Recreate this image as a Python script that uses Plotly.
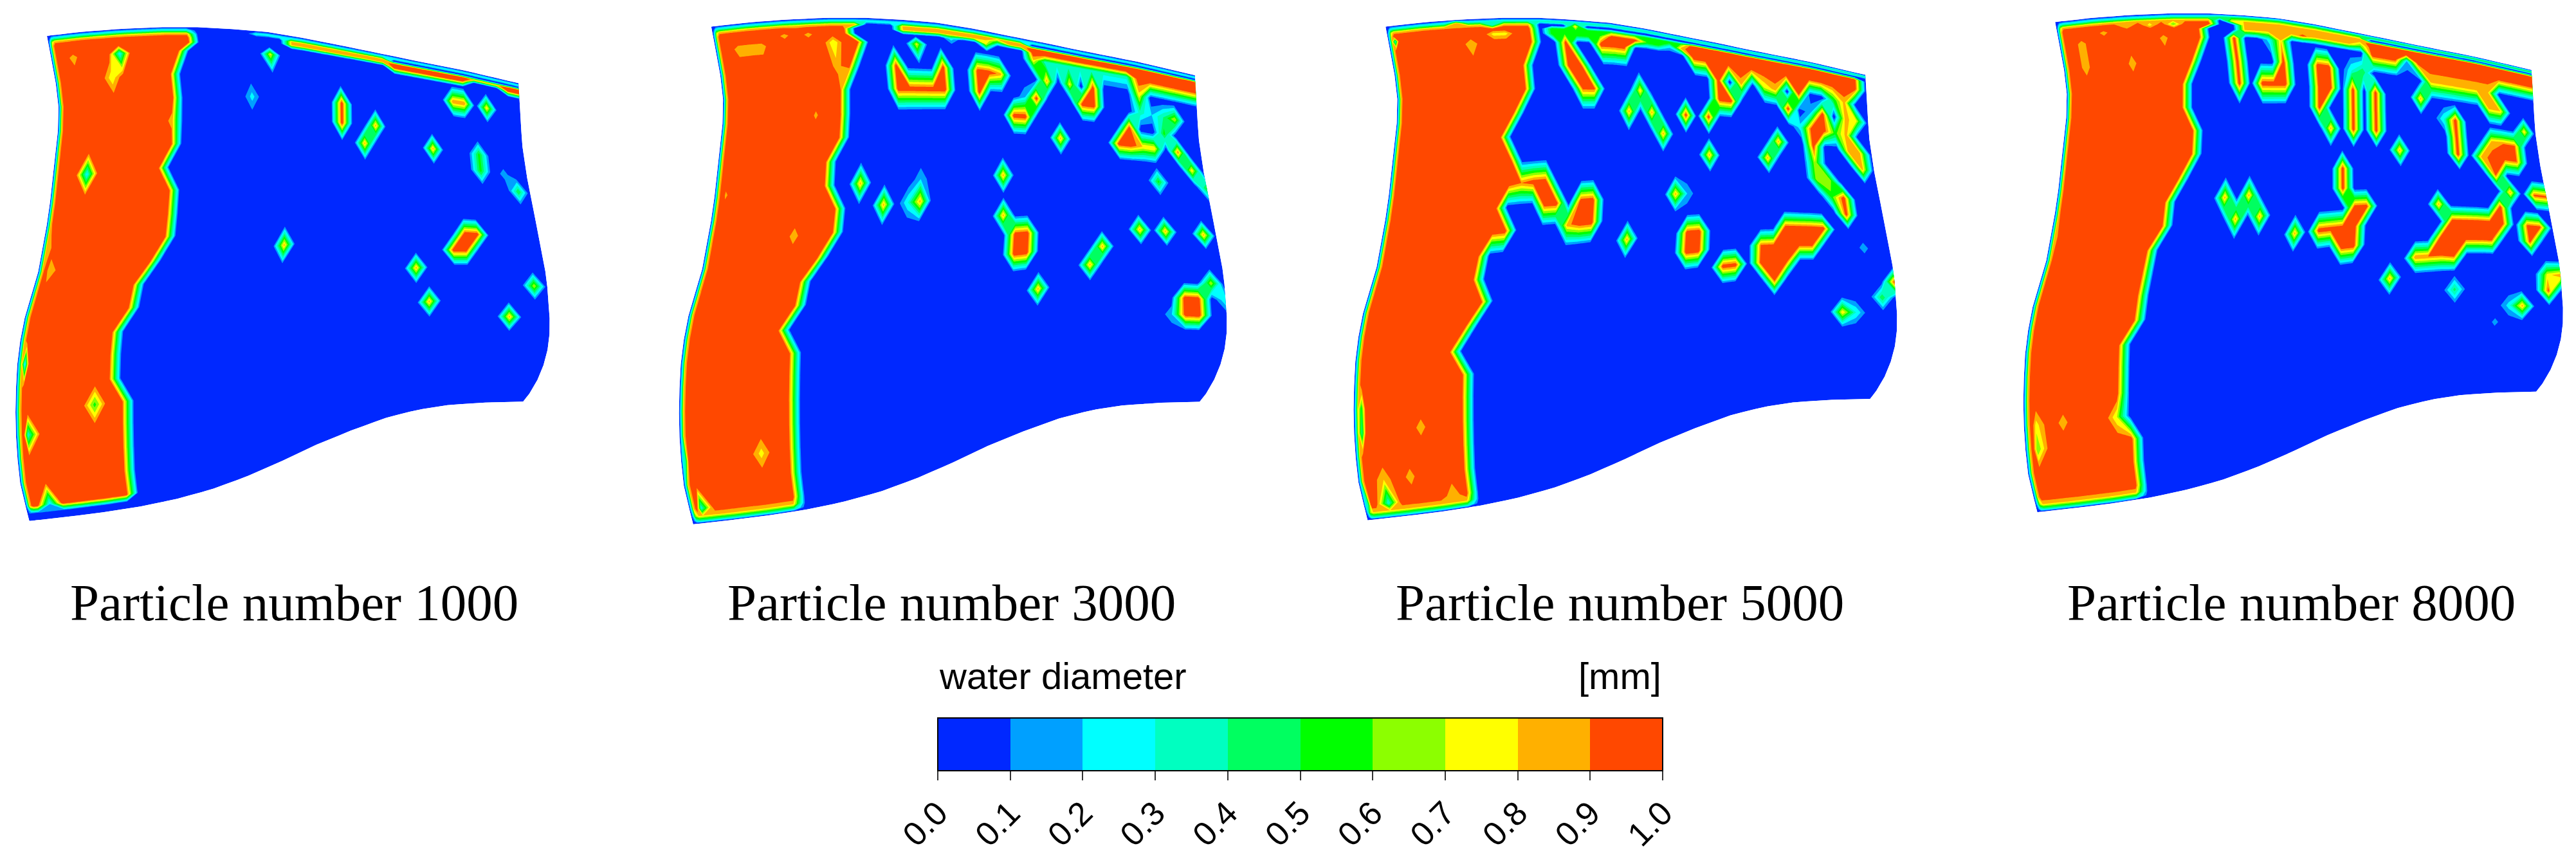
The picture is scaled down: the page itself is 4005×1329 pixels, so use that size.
import numpy as np
import plotly.graph_objects as go

# surface coordinates: every panel axis spans a 0-1568 square laid over its crop of the reference
REF_W, REF_H = 4005, 1329
BODY_MARGIN = 8  # the page keeps this margin round the plot
PAGE_W, PAGE_H = REF_W - BODY_MARGIN, REF_H - BODY_MARGIN
PANEL_NAMES = ["1000", "3000", "5000", "8000"]
PANEL_LEFT = [0, 1030, 2070, 3125]
PANEL_TOP, PANEL_W, PANEL_H = 20, 880, 800
CAPTION_X = [457, 1479, 2518, 3562]

LEVEL_COLORS = ["#0028FF", "#00A0FF", "#00FFFF", "#00FFC0", "#00FF60",
                "#00FF00", "#8CFF00", "#FFFF00", "#FFB000", "#FF4800"]

# blade outline (5 control polylines, 3000 panel)
TOP_X = [135, 240, 350, 460, 560, 660, 760, 860, 960, 1060, 1160, 1320, 1475]
TOP_Y = [42, 29, 20, 15, 15, 21, 30, 48, 70, 92, 115, 150, 190]
BOTTOM_X = [85, 200, 300, 400, 500, 600, 700, 800, 900, 1000, 1100, 1190, 1280, 1380, 1488]
BOTTOM_Y = [1558, 1544, 1530, 1513, 1490, 1460, 1420, 1372, 1320, 1275, 1235, 1210, 1195, 1188, 1185]
LEFT_X = [135, 150, 165, 170, 160, 150, 140, 110, 70, 55, 48, 45, 50, 60, 85]
LEFT_Y = [42, 130, 220, 300, 400, 500, 600, 780, 930, 1020, 1100, 1250, 1350, 1450, 1558]
RIGHT_X = [1475, 1485, 1500, 1520, 1555, 1565, 1560, 1550, 1520, 1488]
RIGHT_Y = [190, 380, 490, 600, 800, 950, 1010, 1060, 1140, 1185]

# where each panel's blade sits: corner x, corner y, scale
BLADE_X0 = [130, 135, 150, 125]
BLADE_Y0 = [70, 42, 42, 28]
BLADE_SCALE = [0.975, 1.0, 0.992, 0.985]

# mesh parameters, packed against the walls
CHORD = [0, 0.004, 0.008, 0.014] + list(np.linspace(0.022, 1, 41))
SPAN = [0, 0.007, 0.014, 0.022, 0.032] + list(np.linspace(0.05, 0.97, 20)) + [0.985, 0.994, 1]

# edge of the wet film: span position y and chord position x
FILM_Y_1000 = [60, 95, 130, 170, 220, 290, 370, 450, 680, 770, 850, 930, 1100, 1300, 1440, 1560]
FILM_X_1000 = [530, 536, 498, 483, 523, 478, 513, 468, 468, 408, 398, 343, 333, 348, 358, 358]
FILM_Y_3000 = [20, 45, 100, 230, 280, 450, 670, 770, 850, 920, 1100, 1490, 1560]
FILM_X_3000 = [550, 528, 553, 518, 498, 483, 473, 418, 403, 353, 358, 373, 373]
FILM_Y_5000 = [20, 60, 100, 140, 280, 350, 430, 480, 580, 660, 750, 880, 990, 1200, 1495, 1560]
FILM_X_5000 = [583, 558, 563, 538, 548, 498, 493, 508, 483, 488, 428, 418, 358, 373, 388, 388]
FILM_Y_8000 = [20, 100, 190, 260, 410, 470, 480, 650, 730, 850, 970, 1170, 1270, 1470, 1560]
FILM_X_8000 = [558, 533, 518, 478, 543, 513, 468, 453, 398, 393, 333, 328, 338, 363, 363]

# wall bands: first chord x, last chord x, first row, last row, value
BANDS_1000 = [(700, 1450, 1, 1, 0.3), (780, 1090, 2, 3, 0.8), (1090, 1300, 3, 4, 1.0),
              (1300, 1440, 3, 3, 0.85), (1400, 1440, 3, 4, 1.0), (80, 380, 25, 27, 0.1)]
BANDS_3000 = [(560, 1480, 1, 1, 0.3), (650, 1000, 2, 3, 0.8), (1000, 1480, 3, 4, 1.0),
              (1000, 1300, 5, 5, 0.35), (1300, 1480, 5, 5, 1.0)]
BANDS_5000 = [(590, 1480, 1, 1, 0.4), (600, 1000, 3, 4, 0.6), (1000, 1480, 3, 5, 1.0),
              (1180, 1260, 6, 6, 0.7)]
BANDS_8000 = [(560, 1450, 1, 1, 0.5), (620, 1000, 2, 4, 0.8), (1000, 1450, 3, 5, 1.0),
              (1150, 1300, 6, 6, 0.8)]

# single droplets: x, y, diameter
DROPS_1000 = [
    (320, 230, 0.72), (243, 472, 0.25), (260, 1178, 0.55), (200, 150, 0.85), (335, 110, 0.25),
    (488, 300, 0.85), (70, 1050, 0.2), (75, 1290, 0.3), (120, 1470, 0.2), (757, 142, 0.75),
    (703, 225, 0.25), (1052, 316, 0.85), (1018, 372, 0.85), (1185, 395, 0.85), (1345, 283, 0.8),
    (1425, 550, 0.5), (1395, 490, 0.15), (778, 715, 0.85), (1160, 798, 0.85), (1192, 853, 0.85),
    (1425, 915, 0.85), (1492, 850, 0.7),
]
DROPS_3000 = [
    (360, 40, 0.8), (340, 80, 0.85), (405, 77, 0.85), (470, 77, 0.7), (428, 278, 0.88),
    (190, 540, 0.88), (360, 680, 0.85), (278, 1335, 0.75), (500, 190, 0.85), (60, 1340, 0.4),
    (105, 1490, 0.3), (703, 83, 0.75), (800, 90, 0.25), (905, 100, 0.7), (930, 90, 0.5),
    (1040, 148, 0.8), (1078, 186, 0.85), (1145, 200, 0.75), (948, 213, 0.85), (1015, 230, 0.2),
    (1113, 360, 0.85), (1310, 240, 0.75), (1360, 305, 0.2), (1415, 410, 0.9), (1390, 370, 0.55),
    (1430, 315, 0.7), (1400, 320, 0.4), (1310, 330, 0.35), (1365, 512, 0.55), (1470, 480, 0.8),
    (1500, 540, 0.55), (945, 480, 0.85), (541, 505, 0.85), (603, 578, 0.85), (700, 570, 0.85),
    (700, 530, 0.2), (665, 580, 0.3), (943, 617, 0.85), (1310, 677, 0.85), (1386, 683, 0.85),
    (1488, 702, 0.85), (1232, 732, 0.85), (1188, 790, 0.85), (1027, 867, 0.85), (1430, 915, 0.2),
    (1530, 835, 0.7), (1552, 860, 0.3),
]
DROPS_5000 = [
    (180, 85, 0.3), (390, 82, 0.8), (455, 72, 0.75), (480, 62, 0.75), (345, 207, 0.92),
    (250, 1255, 0.85), (85, 1280, 0.4), (85, 1230, 0.5), (147, 1405, 0.8), (200, 1397, 0.85),
    (337, 1447, 0.8), (140, 1475, 0.3), (100, 1470, 0.4), (250, 50, 0.85), (340, 40, 0.85),
    (450, 30, 0.3), (670, 47, 0.8), (965, 115, 0.85), (930, 105, 0.25), (860, 205, 0.8),
    (825, 272, 0.85), (890, 275, 0.85), (920, 345, 0.85), (1053, 415, 0.85), (1150, 202, 0.85),
    (1218, 260, 0.85), (1255, 378, 0.85), (1223, 432, 0.85), (1465, 320, 0.7), (1465, 430, 0.8),
    (1460, 475, 0.85), (1390, 290, 0.55), (1380, 260, 0.5), (1400, 370, 0.55), (1330, 290, 0.2),
    (1300, 330, 0.25), (1385, 550, 0.55), (953, 545, 0.85), (985, 580, 0.2), (1465, 745, 0.15),
    (1425, 900, 0.8), (1460, 900, 0.3), (1518, 857, 0.8), (1555, 810, 1.0), (1545, 860, 0.5),
    (642, 650, 0.85), (805, 703, 0.85),
]
DROPS_8000 = [
    (320, 48, 0.8), (385, 45, 0.75), (265, 55, 0.85), (450, 32, 0.6), (435, 95, 0.85),
    (347, 135, 0.85), (222, 198, 0.85), (160, 1240, 0.85), (85, 1335, 0.6), (85, 1290, 0.75),
    (310, 1225, 0.7), (130, 680, 0.9), (612, 30, 0.75), (755, 95, 0.8), (720, 70, 0.25),
    (825, 70, 0.95), (932, 198, 0.8), (985, 205, 0.5), (960, 180, 0.3), (893, 328, 0.85),
    (1125, 287, 0.85), (1093, 403, 0.85), (1195, 340, 0.3), (1155, 192, 0.8), (1040, 140, 1.0),
    (1100, 165, 0.2), (980, 105, 0.6), (1432, 350, 0.8), (590, 558, 0.85), (655, 550, 0.85),
    (618, 630, 0.85), (685, 622, 0.85), (782, 680, 0.85), (1172, 590, 0.85), (1385, 557, 0.85),
    (1240, 820, 0.45), (1043, 837, 0.85), (1478, 835, 0.95), (1500, 785, 0.75), (1430, 885, 0.85),
    (1395, 880, 0.25), (1345, 933, 0.13), (1528, 795, 0.9),
]

# elongated wet patches: start x, start y, end x, end y, diameter
STREAKS_1000 = [
    (135, 720, 135, 790, 0.8), (957, 255, 957, 305, 1.0), (1240, 257, 1285, 262, 0.9),
    (1322, 420, 1322, 470, 0.55), (1285, 690, 1315, 690, 1.0), (1250, 740, 1285, 740, 1.0),
]
STREAKS_3000 = [
    (200, 125, 280, 112, 0.85), (650, 140, 660, 195, 1.0), (660, 200, 790, 200, 1.0),
    (860, 200, 880, 260, 1.0), (890, 200, 885, 250, 1.0), (1020, 280, 990, 345, 1.0),
    (985, 285, 985, 330, 1.0), (1180, 255, 1180, 305, 1.0), (1020, 675, 985, 725, 1.0),
    (975, 670, 970, 725, 1.0), (1500, 855, 1475, 905, 1.0), (1455, 860, 1455, 905, 1.0),
    (1290, 370, 1270, 420, 1.0), (1270, 420, 1320, 390, 1.0), (1320, 390, 1360, 400, 0.8),
]
STREAKS_5000 = [
    (540, 505, 560, 500, 0.9), (560, 500, 610, 590, 1.0), (760, 88, 845, 90, 1.0),
    (650, 115, 665, 165, 1.0), (665, 165, 700, 200, 1.0), (700, 200, 730, 200, 0.95),
    (988, 285, 988, 335, 1.0), (1050, 290, 1090, 290, 1.0), (1045, 160, 1075, 190, 1.0),
    (1290, 235, 1280, 270, 1.0), (1290, 235, 1335, 220, 1.0), (1353, 290, 1353, 350, 1.0),
    (1415, 290, 1430, 400, 0.85), (1325, 380, 1345, 480, 1.0), (1345, 480, 1390, 530, 0.7),
    (1413, 570, 1425, 620, 1.0), (985, 640, 985, 745, 1.0), (1020, 690, 1020, 745, 1.0),
    (1075, 790, 1120, 790, 1.0), (1205, 730, 1225, 830, 1.0), (1265, 680, 1360, 640, 1.0),
    (1265, 710, 1340, 720, 1.0), (1205, 730, 1265, 735, 0.92), (720, 570, 710, 630, 1.0),
    (685, 575, 705, 640, 1.0),
]
STREAKS_8000 = [
    (190, 95, 210, 110, 0.85), (625, 90, 640, 190, 1.0), (700, 185, 770, 185, 1.0),
    (845, 190, 870, 270, 1.0), (880, 190, 880, 230, 1.0), (960, 250, 960, 340, 1.0),
    (1022, 265, 1022, 345, 1.0), (1222, 350, 1235, 430, 1.0), (925, 450, 925, 530, 1.0),
    (1290, 225, 1290, 260, 1.0), (1290, 240, 1350, 290, 0.8), (1340, 400, 1340, 490, 0.95),
    (1370, 380, 1390, 440, 0.9), (1320, 420, 1340, 400, 0.85), (1000, 575, 950, 650, 1.0),
    (970, 590, 930, 690, 1.0), (930, 640, 950, 730, 1.0), (850, 670, 930, 670, 1.0),
    (1360, 600, 1330, 680, 1.0), (1330, 650, 1250, 650, 1.0), (1330, 700, 1180, 720, 1.0),
    (1250, 650, 1180, 700, 1.0), (1180, 720, 1125, 770, 0.9), (1445, 572, 1475, 572, 0.95),
    (1430, 675, 1460, 678, 0.95),
]

FILM_Y = [FILM_Y_1000, FILM_Y_3000, FILM_Y_5000, FILM_Y_8000]
FILM_X = [FILM_X_1000, FILM_X_3000, FILM_X_5000, FILM_X_8000]
BANDS = [BANDS_1000, BANDS_3000, BANDS_5000, BANDS_8000]
DROPS = [DROPS_1000, DROPS_3000, DROPS_5000, DROPS_8000]
STREAKS = [STREAKS_1000, STREAKS_3000, STREAKS_5000, STREAKS_8000]


def page_x(px):
    return (px - BODY_MARGIN) / PAGE_W


def page_y(px):
    return 1 - (px - BODY_MARGIN) / PAGE_H


def along(xs, ys, t):
    """Point at fraction t of the polyline's length."""
    xs, ys = np.array(xs, float), np.array(ys, float)
    s = np.concatenate([[0], np.cumsum(np.hypot(np.diff(xs), np.diff(ys)))])
    s = s / s[-1]
    return np.interp(t, s, xs), np.interp(t, s, ys)


def build_mesh(x0, y0, scale):
    """Coons patch between the four blade edges, placed for one panel."""
    u, v = np.array(CHORD), np.array(SPAN)
    tx, ty = along(TOP_X, TOP_Y, u)
    bx, by = along(BOTTOM_X, BOTTOM_Y, u)
    lx, ly = along(LEFT_X, LEFT_Y, v)
    rx, ry = along(RIGHT_X, RIGHT_Y, v)
    U, V = np.meshgrid(u, v)

    def patch(t, b, l, r):
        return ((1 - V) * t[None, :] + V * b[None, :]
                + (1 - U) * l[:, None] + U * r[:, None]
                - (1 - U) * (1 - V) * t[0] - U * (1 - V) * t[-1]
                - (1 - U) * V * b[0] - U * V * b[-1])

    X = patch(tx, bx, lx, rx)
    Y = patch(ty, by, ly, ry)
    return x0 + (X - TOP_X[0]) * scale, y0 + (Y - TOP_Y[0]) * scale


def nearest_node(X, Y, x, y):
    d = ((X - x) / 30) ** 2 + ((Y - y) / 50) ** 2
    return np.unravel_index(np.argmin(d), d.shape)


def build_field(X, Y, film_y, film_x, bands, drops, streaks):
    edge = np.interp(Y, film_y, film_x)
    Z = (X < edge).astype(float)

    # thin dry fringe along the walls
    Z[:, 0] = 0
    Z[:, 1] *= 0.3
    Z[:, 2] *= 0.8
    Z[0, :] = 0
    Z[1, :] *= 0.35
    Z[2, :] *= 0.85
    Z[-1, :] = 0
    Z[-2, :] *= 0.4
    Z[-3, :] *= 0.8

    for x_a, x_b, row_a, row_b, value in bands:
        for row in range(row_a, row_b + 1):
            hit = (X[row] >= x_a) & (X[row] <= x_b)
            Z[row, hit] = value

    for xa, ya, xb, yb, value in streaks:
        for t in np.linspace(0, 1, 12):
            Z[nearest_node(X, Y, xa + (xb - xa) * t, ya + (yb - ya) * t)] = value

    for x, y, value in drops:
        Z[nearest_node(X, Y, x, y)] = value
    return Z


colorscale = [[i / 9, c] for i, c in enumerate(LEVEL_COLORS)]
a_index = list(range(len(CHORD)))
b_index = list(range(len(SPAN)))

fig = go.Figure()
layout_axes = {}

for k in range(4):
    suffix = "" if k == 0 else str(k + 1)
    xa, ya = "x" + suffix, "y" + suffix
    X, Y = build_mesh(BLADE_X0[k], BLADE_Y0[k], BLADE_SCALE[k])
    Z = build_field(X, Y, FILM_Y[k], FILM_X[k], BANDS[k], DROPS[k], STREAKS[k])

    fig.add_trace(go.Carpet(
        carpet="blade" + PANEL_NAMES[k],
        a=a_index, b=b_index, x=X.tolist(), y=Y.tolist(),
        aaxis=dict(showgrid=False, startline=False, endline=False, showticklabels="none",
                   minorgridcount=0, smoothing=0),
        baxis=dict(showgrid=False, startline=False, endline=False, showticklabels="none",
                   minorgridcount=0, smoothing=0),
        xaxis=xa, yaxis=ya,
    ))
    fig.add_trace(go.Contourcarpet(
        carpet="blade" + PANEL_NAMES[k],
        a=a_index, b=b_index, z=Z.tolist(),
        autocontour=False,
        contours=dict(start=0.1, end=0.9, size=0.1, coloring="fill", showlines=False),
        line=dict(width=0, smoothing=0),
        colorscale=colorscale,
        zmin=0, zmax=1,
        showscale=k == 0,
        colorbar=dict(
            orientation="h",
            x=page_x((1458 + 2585) / 2), xanchor="center",
            y=page_y(1116), yanchor="top",
            len=1127, lenmode="pixels",
            thickness=82, thicknessmode="pixels",
            xpad=0, ypad=0,
            outlinecolor="black", outlinewidth=2,
            tick0=0, dtick=0.1, tickformat=".1f",
            ticks="outside", ticklen=14, tickwidth=2, tickcolor="#333333",
            tickangle=-45,
            tickfont=dict(family="Liberation Sans", size=52, color="black"),
        ),
        xaxis=xa, yaxis=ya,
    ))

    # the first panel's crop starts left of the plot, so its axis starts a little later
    left = max(PANEL_LEFT[k], BODY_MARGIN)
    range_start = (left - PANEL_LEFT[k]) * 1568 / PANEL_W
    layout_axes["xaxis" + suffix] = dict(
        domain=[page_x(left), min(page_x(PANEL_LEFT[k] + PANEL_W), 1)],
        range=[range_start, 1568], visible=False, anchor=ya,
    )
    layout_axes["yaxis" + suffix] = dict(
        domain=[page_y(PANEL_TOP + PANEL_H), page_y(PANEL_TOP)],
        range=[1568, 0], visible=False, anchor=xa,
    )

    fig.add_annotation(
        text="Particle number " + PANEL_NAMES[k],
        x=page_x(CAPTION_X[k]), y=page_y(937),
        xref="paper", yref="paper", xanchor="center", yanchor="middle", showarrow=False,
        font=dict(family="Liberation Serif", size=81, color="black"),
    )

fig.add_annotation(text="water diameter", x=page_x(1458), y=page_y(1050),
                   xref="paper", yref="paper", xanchor="left", yanchor="middle", showarrow=False,
                   font=dict(family="Liberation Sans", size=58, color="black"))
fig.add_annotation(text="[mm]", x=page_x(2585), y=page_y(1050),
                   xref="paper", yref="paper", xanchor="right", yanchor="middle", showarrow=False,
                   font=dict(family="Liberation Sans", size=58, color="black"))

fig.update_layout(
    width=PAGE_W, height=PAGE_H,
    margin=dict(l=0, r=0, t=0, b=0),
    paper_bgcolor="white", plot_bgcolor="white",
    showlegend=False,
    **layout_axes,
)

fig.write_html("out.html", config={"displayModeBar": False})
